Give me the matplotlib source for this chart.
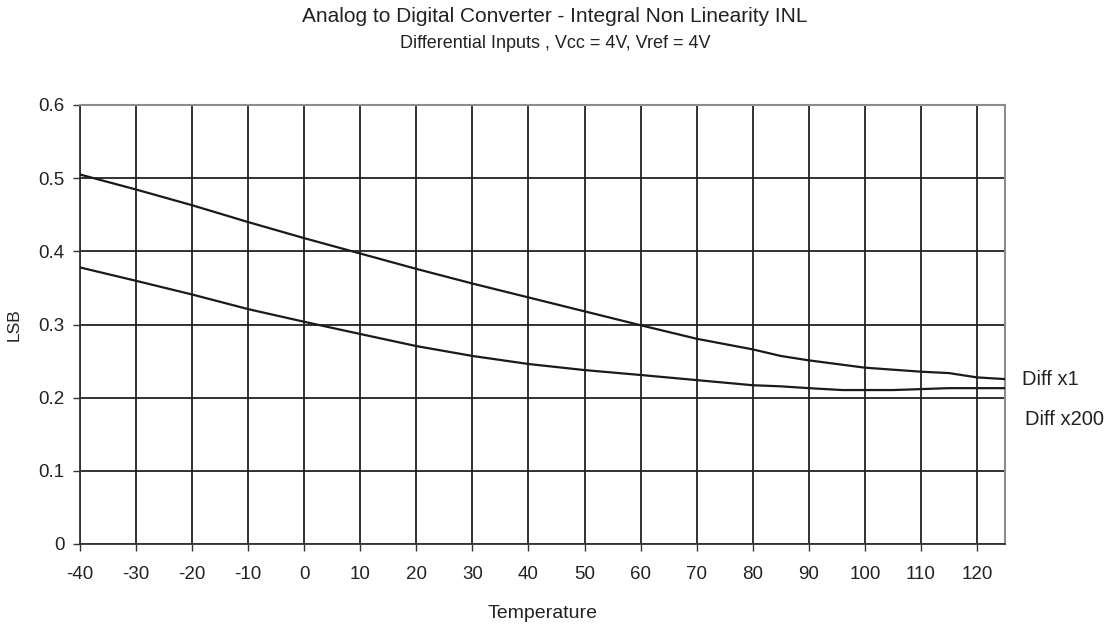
import matplotlib
matplotlib.use("Agg")
import matplotlib.pyplot as plt

temperature = [-40, -30, -20, -10, 0, 10, 20, 30, 40, 50, 60, 70, 80, 85, 90, 100, 110, 115, 120, 125]
diff_x1 = [0.505, 0.4845, 0.463, 0.440, 0.418, 0.397, 0.376, 0.356, 0.337, 0.318, 0.299, 0.2805,
           0.266, 0.257, 0.251, 0.241, 0.2355, 0.2336, 0.2277, 0.2254]
temperature2 = [-40, -30, -20, -10, 0, 10, 20, 30, 40, 50, 60, 70, 80, 85, 90, 96, 100, 105, 110, 115, 120, 125]
diff_x200 = [0.378, 0.3597, 0.341, 0.321, 0.3037, 0.287, 0.2705, 0.257, 0.246, 0.2377, 0.231, 0.224,
             0.217, 0.2155, 0.213, 0.2104, 0.2104, 0.2104, 0.2117, 0.213, 0.213, 0.213]
x_ticks = list(range(-40, 121, 10))
y_ticks = [0, 0.1, 0.2, 0.3, 0.4, 0.5, 0.6]
y_tick_labels = ["0", "0.1", "0.2", "0.3", "0.4", "0.5", "0.6"]

plt.rcParams['font.family'] = ['Liberation Sans', 'DejaVu Sans']
plt.rcParams['axes.unicode_minus'] = False

fig = plt.figure(figsize=(11.11, 6.26), dpi=100)
ax = fig.add_axes([80/1111, 1-544/626, (1005-80)/1111, (544-105)/626])

ax.set_xlim(-40, 125)
ax.set_ylim(0, 0.6)
ax.set_xticks(x_ticks)
ax.set_xticklabels([str(t) for t in x_ticks])
ax.set_yticks(y_ticks)
ax.set_yticklabels(y_tick_labels)
ax.grid(True, color='#222222', linewidth=1.3)
ax.set_axisbelow(True)

ax.plot(temperature, diff_x1, color='#1a1a1a', linewidth=1.6, zorder=3)
ax.plot(temperature2, diff_x200, color='#1a1a1a', linewidth=1.6, zorder=3)

for s in ['top', 'right']:
    ax.spines[s].set_color('#8c8c8c')
    ax.spines[s].set_linewidth(1.5)
for s in ['left', 'bottom']:
    ax.spines[s].set_color('#333333')
    ax.spines[s].set_linewidth(1.3)

ax.tick_params(axis='both', direction='out', length=5, width=1, color='#333333',
               labelsize=13.5, colors='#222222', pad=6)
ax.tick_params(axis='x', pad=11)

ax.set_xlabel('Temperature', fontsize=14, color='#222222', labelpad=16)
ax.set_ylabel('LSB', fontsize=12.5, color='#222222', labelpad=12)

fig.text(555/1111, 1-16/626, 'Analog to Digital Converter - Integral Non Linearity INL',
         ha='center', va='center', fontsize=15, color='#222222')
fig.text(555/1111, 1-43/626, 'Differential Inputs , Vcc = 4V, Vref = 4V',
         ha='center', va='center', fontsize=13, color='#222222')

ax.text(1.018, 0.2254, 'Diff x1', transform=ax.get_yaxis_transform(), ha='left', va='center',
        fontsize=14.5, color='#222222')
ax.text(1.022, 0.17, 'Diff x200', transform=ax.get_yaxis_transform(), ha='left', va='center',
        fontsize=14.5, color='#222222')

fig.savefig('out.png', dpi=100)
